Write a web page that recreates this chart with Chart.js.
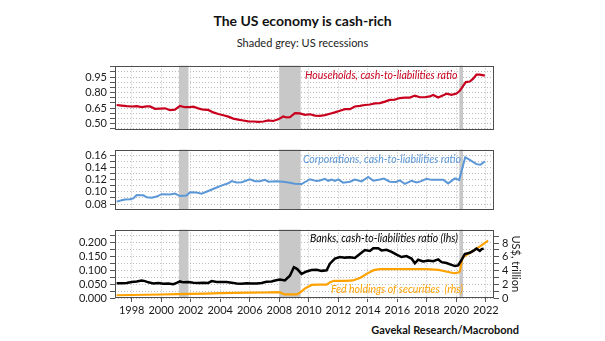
<!DOCTYPE html>
<html>
<head>
<meta charset="utf-8">
<title>The US economy is cash-rich</title>
<script src="https://cdn.jsdelivr.net/npm/chart.js@4.4.0/dist/chart.umd.min.js"></script>
<style>
  body { margin: 0; background: #fff; font-family: Lato, sans-serif; }
  #page { position: relative; width: 605px; height: 341px; overflow: hidden; background: #fff; }
  .panel { position: absolute; left: 0; width: 605px; }
  #title { position: absolute; top: 12px; left: 0; width: 605px; text-align: center; font-weight: bold; font-size: 14px; line-height: 17px; color: #111; }
  #subtitle { position: absolute; top: 36px; left: 0; width: 605px; text-align: center; font-size: 11px; line-height: 14px; color: #222; }
  #source { position: absolute; top: 323px; right: 86px; font-weight: bold; font-size: 11px; line-height: 14px; color: #111; }
</style>
</head>
<body>
<div id="page">
  <div id="title">The US economy is cash-rich</div>
  <div id="subtitle">Shaded grey: US recessions</div>
  <div class="panel" style="top:56px;height:83px"><canvas id="households"></canvas></div>
  <div class="panel" style="top:140px;height:79px"><canvas id="corporations"></canvas></div>
  <div class="panel" style="top:220px;height:100px"><canvas id="banks"></canvas></div>
  <div id="source">Gavekal Research/Macrobond</div>
</div>
<script>
// x axis (years)
const yearTicks = [1998, 2000, 2002, 2004, 2006, 2008, 2010, 2012, 2014, 2016, 2018, 2020, 2022];
const recessions = [[2001.2, 2001.85], [2008.0, 2009.45], [2020.2, 2020.45]];

// Households, cash-to-liabilities ratio
const hhYears = [1996.98, 1997.32, 1997.66, 1998.00, 1998.34, 1998.68, 1999.02, 1999.24, 1999.58, 1999.92,
  2000.26, 2000.60, 2000.93, 2001.27, 2001.61, 2001.95, 2002.18, 2002.51, 2002.85, 2003.19,
  2003.53, 2003.87, 2004.21, 2004.55, 2004.88, 2005.22, 2005.56, 2005.90, 2006.24, 2006.58,
  2006.92, 2007.26, 2007.59, 2007.93, 2008.27, 2008.50, 2008.72, 2009.06, 2009.40, 2009.74,
  2010.08, 2010.42, 2010.75, 2011.09, 2011.43, 2011.77, 2012.11, 2012.45, 2012.79, 2013.12,
  2013.46, 2013.80, 2014.14, 2014.48, 2014.82, 2015.16, 2015.49, 2015.83, 2016.17, 2016.51,
  2016.85, 2017.19, 2017.53, 2017.86, 2018.20, 2018.43, 2018.77, 2019.11, 2019.33, 2019.67,
  2020.01, 2020.23, 2020.46, 2020.64, 2020.91, 2021.14, 2021.36, 2021.59, 2021.93];
const hhRatio = [0.680, 0.674, 0.669, 0.666, 0.669, 0.659, 0.666, 0.666, 0.643, 0.646,
  0.648, 0.630, 0.635, 0.672, 0.659, 0.659, 0.664, 0.648, 0.635, 0.633,
  0.609, 0.594, 0.581, 0.568, 0.549, 0.539, 0.531, 0.523, 0.521, 0.518,
  0.521, 0.531, 0.526, 0.542, 0.570, 0.560, 0.562, 0.601, 0.599, 0.586,
  0.591, 0.578, 0.575, 0.583, 0.596, 0.609, 0.625, 0.640, 0.640, 0.666,
  0.672, 0.680, 0.685, 0.695, 0.698, 0.713, 0.729, 0.732, 0.747, 0.752,
  0.752, 0.771, 0.755, 0.755, 0.763, 0.776, 0.752, 0.773, 0.789, 0.778,
  0.791, 0.817, 0.864, 0.901, 0.906, 0.934, 0.973, 0.973, 0.963];

// Corporations, cash-to-liabilities ratio
const corpYears = [1996.98, 1997.32, 1997.55, 1997.89, 1998.11, 1998.34, 1998.56, 1998.79, 1999.02, 1999.35,
  1999.69, 2000.03, 2000.60, 2000.93, 2001.27, 2001.72, 2001.95, 2002.40, 2002.74, 2003.19,
  2003.76, 2004.21, 2004.55, 2004.77, 2005.11, 2005.45, 2006.01, 2006.35, 2006.69, 2007.03,
  2007.26, 2007.82, 2008.27, 2008.72, 2009.06, 2009.51, 2010.08, 2010.53, 2010.75, 2011.09,
  2011.32, 2011.54, 2011.77, 2012.00, 2012.33, 2012.79, 2013.12, 2013.58, 2014.03, 2014.37,
  2014.82, 2015.09, 2015.49, 2015.90, 2016.17, 2016.51, 2016.96, 2017.30, 2017.57, 2017.98,
  2018.32, 2018.65, 2019.11, 2019.44, 2019.90, 2020.19, 2020.60, 2021.02, 2021.36, 2021.63, 2021.93];
const corpRatio = [0.0839, 0.0861, 0.0874, 0.0878, 0.0891, 0.0948, 0.0943, 0.0943, 0.0909, 0.0904,
  0.0922, 0.0961, 0.0957, 0.0970, 0.0930, 0.0939, 0.0991, 0.0987, 0.0970, 0.1013,
  0.1070, 0.1113, 0.1139, 0.1174, 0.1152, 0.1157, 0.1204, 0.1174, 0.1174, 0.1196,
  0.1165, 0.1174, 0.1165, 0.1148, 0.1130, 0.1126, 0.1205, 0.1175, 0.1185, 0.1213,
  0.1180, 0.1200, 0.1178, 0.1204, 0.1150, 0.1165, 0.1200, 0.1170, 0.1243, 0.1180,
  0.1200, 0.1217, 0.1165, 0.1161, 0.1187, 0.1128, 0.1178, 0.1152, 0.1170, 0.1212,
  0.1195, 0.1195, 0.1196, 0.1137, 0.1218, 0.1195, 0.1565, 0.1504, 0.1452, 0.1443, 0.1498];

// Banks, cash-to-liabilities ratio (lhs)
const bankYears = [1996.98, 1997.32, 1997.66, 1998.00, 1998.34, 1998.68, 1998.90, 1999.13, 1999.47, 1999.81,
  2000.14, 2000.48, 2000.82, 2001.05, 2001.27, 2001.50, 2001.84, 2002.18, 2002.51, 2002.85,
  2003.19, 2003.42, 2003.76, 2004.09, 2004.43, 2004.77, 2005.11, 2005.45, 2005.79, 2006.13,
  2006.47, 2006.80, 2007.14, 2007.48, 2007.71, 2008.05, 2008.38, 2008.72, 2008.99, 2009.22,
  2009.51, 2009.85, 2010.19, 2010.53, 2010.87, 2011.21, 2011.43, 2011.77, 2012.11, 2012.45,
  2012.79, 2013.12, 2013.46, 2013.80, 2014.14, 2014.37, 2014.70, 2014.93, 2015.27, 2015.61,
  2015.95, 2016.28, 2016.62, 2016.96, 2017.19, 2017.41, 2017.75, 2018.09, 2018.43, 2018.77,
  2019.00, 2019.33, 2019.67, 2019.90, 2020.12, 2020.35, 2020.57, 2020.91, 2021.14, 2021.36,
  2021.59, 2021.72, 2021.85];
const bankRatio = [0.0536, 0.0536, 0.0546, 0.0579, 0.0601, 0.0634, 0.0612, 0.0568, 0.0525, 0.0546,
  0.0514, 0.0525, 0.0503, 0.0546, 0.0601, 0.0568, 0.0579, 0.0557, 0.0546, 0.0557,
  0.0546, 0.0612, 0.0579, 0.0579, 0.0579, 0.0557, 0.0525, 0.0514, 0.0536, 0.0525,
  0.0525, 0.0546, 0.0590, 0.0601, 0.0634, 0.0667, 0.0634, 0.0809, 0.1115, 0.1049,
  0.0874, 0.0962, 0.1016, 0.1027, 0.0984, 0.1005, 0.1246, 0.1432, 0.1486, 0.1464,
  0.1475, 0.1454, 0.1596, 0.1738, 0.1705, 0.1803, 0.1803, 0.1727, 0.1749, 0.1672,
  0.1574, 0.1486, 0.1519, 0.1432, 0.1257, 0.1388, 0.1322, 0.1355, 0.1333, 0.1399,
  0.1301, 0.1268, 0.1202, 0.1158, 0.1180, 0.1377, 0.1596, 0.1639, 0.1705, 0.1792,
  0.1705, 0.1770, 0.1792];

// Fed holdings of securities, US$ trillion (rhs)
const fedYears = [1996.98, 1998.00, 1999.00, 2000.00, 2001.00, 2002.00, 2003.00, 2004.00, 2005.00, 2006.00,
  2007.00, 2007.90, 2008.10, 2008.35, 2009.20, 2009.45, 2009.75, 2010.20, 2010.60, 2011.20,
  2011.45, 2011.70, 2012.50, 2013.00, 2013.50, 2013.95, 2014.40, 2014.80, 2016.00, 2018.00,
  2018.80, 2019.30, 2019.85, 2020.15, 2020.25, 2020.40, 2020.70, 2021.20, 2021.60, 2022.15];
const fedHoldings = [0.40, 0.44, 0.47, 0.51, 0.55, 0.60, 0.65, 0.70, 0.74, 0.78,
  0.80, 0.86, 0.78, 0.52, 0.52, 0.85, 1.40, 1.90, 1.95, 1.95,
  2.30, 2.50, 2.50, 2.55, 2.95, 3.55, 4.05, 4.20, 4.20, 4.20,
  4.10, 3.85, 3.60, 3.70, 3.95, 5.80, 6.30, 6.95, 7.50, 8.35];

// y axis ticks (every tick gets a grid line, only labelled ones get text)
const hhTicks = [0.45, 0.50, 0.55, 0.60, 0.65, 0.70, 0.75, 0.80, 0.85, 0.90, 0.95, 1.00, 1.05];
const hhLabels = [0.50, 0.65, 0.80, 0.95];
const corpTicks = [0.08, 0.09, 0.10, 0.11, 0.12, 0.13, 0.14, 0.15, 0.16];
const corpLabels = [0.08, 0.10, 0.12, 0.14, 0.16];
const bankTicks = [0, 0.025, 0.05, 0.075, 0.10, 0.125, 0.15, 0.175, 0.20, 0.225];
const bankLabels = [0, 0.05, 0.10, 0.15, 0.20];
const fedTicks = [0, 1, 2, 3, 4, 5, 6, 7, 8, 9];
const fedLabels = [0, 2, 4, 6, 8];

const gridColor = '#bdbdbd';
const tickFont = { family: 'Lato', size: 11 };
const xMin = 1996.87, xMax = 2022.55;

const pts = (xs, ys) => xs.map((x, i) => ({ x: x, y: ys[i] }));
const isLabel = (list, v) => list.some(l => Math.abs(l - v) < 1e-9);

// grey recession bands, under the lines
const shadePlugin = {
  id: 'recessionShade',
  beforeDatasetsDraw(chart) {
    const { ctx, chartArea, scales } = chart;
    ctx.save();
    ctx.fillStyle = '#c8c8c8';
    recessions.forEach(r => {
      const x1 = scales.x.getPixelForValue(r[0]);
      const x2 = scales.x.getPixelForValue(r[1]);
      ctx.fillRect(x1, chartArea.top, x2 - x1, chartArea.bottom - chartArea.top);
    });
    ctx.restore();
  }
};

// frame round each panel
const boxPlugin = {
  id: 'panelBox',
  afterDraw(chart) {
    const { ctx, chartArea } = chart;
    ctx.save();
    ctx.strokeStyle = '#4d4d4d';
    ctx.lineWidth = 1;
    ctx.strokeRect(Math.round(chartArea.left) + 0.5, Math.round(chartArea.top) + 0.5,
      Math.round(chartArea.right - chartArea.left) - 1, Math.round(chartArea.bottom - chartArea.top) - 1);
    ctx.restore();
  }
};

// italic series names inside the panels
function labelPlugin(items) {
  return {
    id: 'seriesLabels',
    afterDatasetsDraw(chart) {
      const ctx = chart.ctx;
      ctx.save();
      ctx.font = 'italic 10.5px Lato';
      ctx.textAlign = 'left';
      ctx.textBaseline = 'middle';
      items.forEach(it => {
        ctx.fillStyle = it.color;
        ctx.fillText(it.text, chart.scales.x.getPixelForValue(it.x), chart.scales[it.axis].getPixelForValue(it.y));
      });
      ctx.restore();
    }
  };
}

function xScale(showX) {
  return {
    type: 'linear', min: xMin, max: xMax,
    afterBuildTicks: s => { s.ticks = yearTicks.map(v => ({ value: v })); },
    afterFit: s => { s.height = showX ? 22 : 0; },
    border: { display: false, dash: [1, 2] },
    grid: { color: gridColor, drawTicks: showX, tickLength: 4, tickColor: '#555', tickBorderDash: [] },
    ticks: { display: showX, autoSkip: false, maxRotation: 0, padding: 2, color: '#1a1a1a', font: tickFont,
      callback: v => String(v) }
  };
}

function yScale(min, max, ticks, labels, decimals) {
  return {
    type: 'linear', position: 'left', min: min, max: max,
    afterBuildTicks: s => { s.ticks = ticks.map(v => ({ value: v })); },
    afterFit: s => { s.width = 115; },
    border: { display: false, dash: [1, 2] },
    grid: { color: gridColor, tickLength: 5, tickColor: '#555', tickBorderDash: [] },
    ticks: { autoSkip: false, padding: 3, color: '#1a1a1a', font: tickFont,
      callback: v => isLabel(labels, v) ? v.toFixed(decimals) : '' }
  };
}

function lineSet(label, data, color, width, axis) {
  return { label: label, data: data, borderColor: color, backgroundColor: color, borderWidth: width,
    pointRadius: 0, tension: 0, fill: false, yAxisID: axis || 'y' };
}

const baseOptions = (padRight, padBottom) => ({
  responsive: true, maintainAspectRatio: false, animation: false,
  layout: { padding: { left: 0, right: padRight, top: 2, bottom: padBottom } },
  plugins: { legend: { display: false }, tooltip: { enabled: false } }
});

// Households panel
new Chart(document.getElementById('households'), {
  type: 'line',
  data: { datasets: [lineSet('Households, cash-to-liabilities ratio', pts(hhYears, hhRatio), '#c8001e', 2.2)] },
  options: Object.assign(baseOptions(111, 2), {
    scales: { x: xScale(false), y: yScale(0.445, 1.06, hhTicks, hhLabels, 2) }
  }),
  plugins: [shadePlugin, boxPlugin,
    labelPlugin([{ text: 'Households, cash-to-liabilities ratio', x: 2009.74, y: 0.968, axis: 'y', color: '#c8001e' }])]
});

// Corporations panel
new Chart(document.getElementById('corporations'), {
  type: 'line',
  data: { datasets: [lineSet('Corporations, cash-to-liabilities ratio', pts(corpYears, corpRatio), '#5b97d6', 2)] },
  options: Object.assign(baseOptions(111, 2), {
    scales: { x: xScale(false), y: yScale(0.0712, 0.169, corpTicks, corpLabels, 2) }
  }),
  plugins: [shadePlugin, boxPlugin,
    labelPlugin([{ text: 'Corporations, cash-to-liabilities ratio', x: 2009.6, y: 0.1522, axis: 'y', color: '#5b97d6' }])]
});

// Banks + Fed panel
new Chart(document.getElementById('banks'), {
  type: 'line',
  data: { datasets: [
    lineSet('Banks, cash-to-liabilities ratio (lhs)', pts(bankYears, bankRatio), '#000000', 2.5, 'y'),
    lineSet('Fed holdings of securities (rhs)', pts(fedYears, fedHoldings), '#ffa200', 2.2, 'yR')
  ] },
  options: Object.assign(baseOptions(83, 0), {
    scales: {
      x: xScale(true),
      y: yScale(0, 0.248, bankTicks, bankLabels, 3),
      yR: {
        type: 'linear', position: 'right', min: 0, max: 9.95,
        afterBuildTicks: s => { s.ticks = fedTicks.map(v => ({ value: v })); },
        afterFit: s => { s.width = 28; },
        border: { display: false },
        grid: { drawOnChartArea: false, tickLength: 5, tickColor: '#555', tickBorderDash: [] },
        ticks: { autoSkip: false, padding: 3, color: '#1a1a1a', font: tickFont,
          callback: v => isLabel(fedLabels, v) ? String(v) : '' },
        title: { display: true, text: 'US$, trillion', color: '#1a1a1a', font: { family: 'Lato', size: 11 }, padding: 0 }
      }
    }
  }),
  plugins: [shadePlugin, boxPlugin,
    labelPlugin([
      { text: 'Banks, cash-to-liabilities ratio (lhs)', x: 2010.08, y: 0.2164, axis: 'y', color: '#000000' },
      { text: 'Fed holdings of securities  (rhs)', x: 2011.5, y: 1.29, axis: 'yR', color: '#ffa200' }
    ])]
});
</script>
</body>
</html>
